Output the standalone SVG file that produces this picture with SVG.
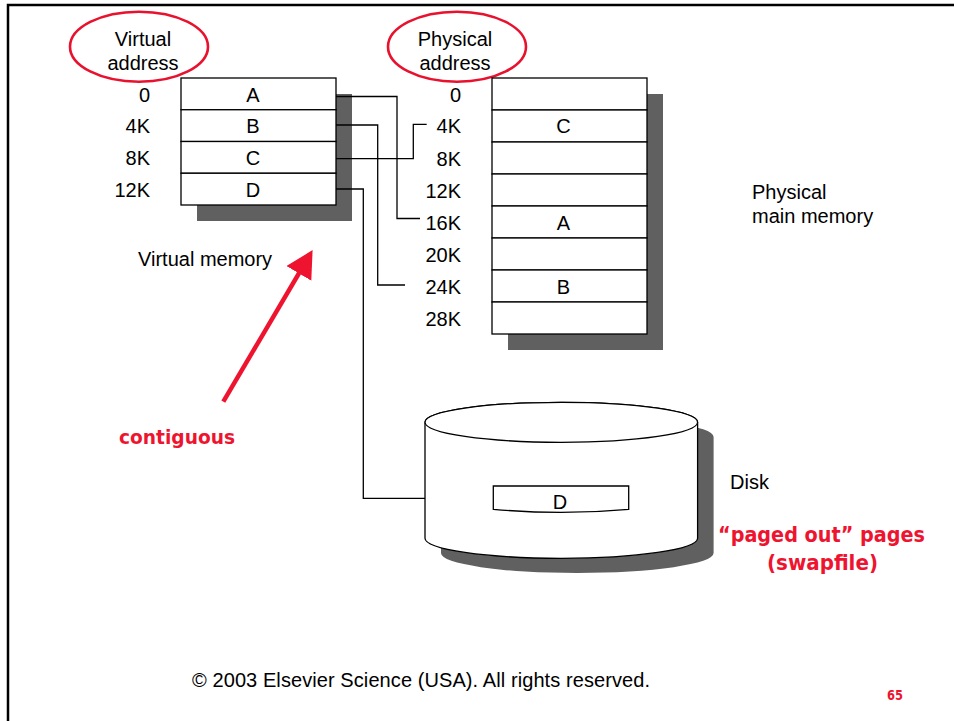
<svg xmlns="http://www.w3.org/2000/svg" width="954" height="721" viewBox="0 0 954 721">
<defs>
<style>
.t{font-family:"Liberation Sans",Arial,sans-serif;font-size:20px;fill:#000}
.r{text-anchor:end}
.m{text-anchor:middle}
.red{font-family:"DejaVu Sans",sans-serif;font-weight:bold;fill:#ee1430}
.cell{fill:#fff;stroke:#000;stroke-width:1.3}
.sh{fill:#606060}
.ln{fill:none;stroke:#000;stroke-width:1.3}
.oval{fill:none;stroke:#e8122e;stroke-width:2.6}
</style>
<marker id="ah" markerWidth="8" markerHeight="8" refX="5" refY="4" orient="auto" markerUnits="strokeWidth">
<path d="M0,0.8 L6,4 L0,7.2 Z" fill="#ee1430"/>
</marker>
</defs>
<rect width="954" height="721" fill="#fff"/>
<path d="M8,721 L8,5 L954,5" fill="none" stroke="#000" stroke-width="2.5"/>

<g id="virtual-address-label">
<ellipse class="oval" cx="139" cy="46.7" rx="69" ry="35"/>
<text class="t m" x="143" y="45.5">Virtual</text>
<text class="t m" x="143" y="70">address</text>
</g>

<g id="physical-address-label">
<ellipse class="oval" cx="457" cy="46.7" rx="69" ry="35"/>
<text class="t m" x="455" y="45.5">Physical</text>
<text class="t m" x="455" y="70">address</text>
</g>

<g id="virtual-memory">
<rect class="sh" x="197" y="94" width="155" height="127"/>
<rect class="cell" x="181" y="78" width="155" height="31.75"/>
<rect class="cell" x="181" y="109.75" width="155" height="31.75"/>
<rect class="cell" x="181" y="141.5" width="155" height="31.75"/>
<rect class="cell" x="181" y="173.25" width="155" height="31.75"/>
<text class="t m" x="253" y="101.5">A</text>
<text class="t m" x="253" y="133">B</text>
<text class="t m" x="253" y="165">C</text>
<text class="t m" x="253" y="197">D</text>
<text class="t r" x="150" y="101.5">0</text>
<text class="t r" x="150" y="133">4K</text>
<text class="t r" x="150" y="165">8K</text>
<text class="t r" x="150" y="197">12K</text>
<text class="t" x="138" y="266">Virtual memory</text>
</g>

<g id="physical-memory">
<rect class="sh" x="508" y="94" width="155" height="256"/>
<rect class="cell" x="492" y="78" width="155" height="32"/>
<rect class="cell" x="492" y="110" width="155" height="32"/>
<rect class="cell" x="492" y="142" width="155" height="32"/>
<rect class="cell" x="492" y="174" width="155" height="32"/>
<rect class="cell" x="492" y="206" width="155" height="32"/>
<rect class="cell" x="492" y="238" width="155" height="32"/>
<rect class="cell" x="492" y="270" width="155" height="32"/>
<rect class="cell" x="492" y="302" width="155" height="32"/>
<text class="t m" x="563.5" y="133.3">C</text>
<text class="t m" x="563.5" y="230">A</text>
<text class="t m" x="563.5" y="294">B</text>
<text class="t r" x="461" y="101.5">0</text>
<text class="t r" x="461" y="133.3">4K</text>
<text class="t r" x="461" y="165.5">8K</text>
<text class="t r" x="461" y="197.5">12K</text>
<text class="t r" x="461" y="230">16K</text>
<text class="t r" x="461" y="261.7">20K</text>
<text class="t r" x="461" y="294">24K</text>
<text class="t r" x="461" y="326">28K</text>
<text class="t" x="752" y="199">Physical</text>
<text class="t" x="752" y="223">main memory</text>
</g>

<g id="disk">
<path class="sh" d="M441,437 A136.3,20 0 0,1 713.6,437 L713.6,553 A136.3,20 0 0,1 441,553 Z"/>
<path class="cell" d="M425,422.3 A136.3,20 0 0,1 697.6,422.3 L697.6,538.3 A136.3,20 0 0,1 425,538.3 Z"/>
<ellipse class="cell" cx="561.3" cy="422.3" rx="136.3" ry="20"/>
<path class="cell" d="M493.3,486 L628.7,486 L628.7,509.3 Q561,515.5 493.3,509.3 Z"/>
<text class="t m" x="560" y="508.5">D</text>
<text class="t" x="730" y="489.3">Disk</text>
</g>

<g id="connectors">
<path class="ln" d="M336,96.5 H397 V218.5 H420"/>
<path class="ln" d="M336,125 H377.7 V285 H405"/>
<path class="ln" d="M336,158.7 H413.3 V124.3 H426.7"/>
<path class="ln" d="M336,189 H363.3 V498.3 H425"/>
</g>

<g id="contiguous-note">
<line x1="223.3" y1="401.7" x2="310.3" y2="254" stroke="#ee1430" stroke-width="4.5" marker-end="url(#ah)"/>
<text class="red" x="119" y="444" font-size="20" textLength="116" lengthAdjust="spacingAndGlyphs">contiguous</text>
</g>

<g id="paged-out-note">
<text class="red" x="718" y="541.7" font-size="21" textLength="207" lengthAdjust="spacingAndGlyphs">“paged out” pages</text>
<text class="red" x="767" y="570" font-size="21" textLength="111" lengthAdjust="spacingAndGlyphs">(swapfile)</text>
</g>

<text class="t" x="192" y="687" textLength="458">© 2003 Elsevier Science (USA). All rights reserved.</text>
<text class="red" x="887" y="700" font-size="13.5" textLength="16" lengthAdjust="spacingAndGlyphs">65</text>
</svg>
